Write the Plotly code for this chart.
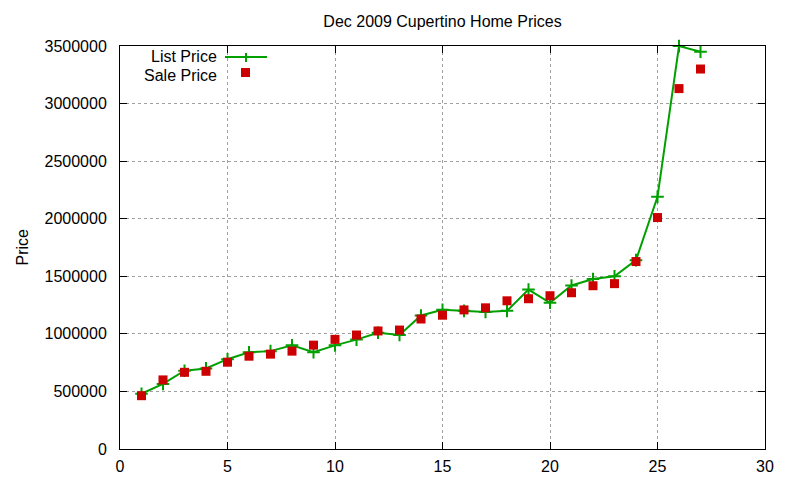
import plotly.graph_objects as go

# Dados
casa = list(range(1, 28))
list_price = [480000, 565000, 680000, 700000, 780000, 840000, 850000, 900000, 841000, 900000,
              950000, 1010000, 990000, 1160000, 1210000, 1200000, 1190000, 1200000, 1385000, 1270000,
              1420000, 1477000, 1500000, 1640000, 2190000, 3499000, 3450000]
sale_price = [463000, 600000, 666000, 675000, 754000, 806000, 824000, 850000, 902000, 952000,
              990000, 1025000, 1033000, 1129000, 1162000, 1208000, 1226000, 1287000, 1305000, 1331000,
              1357000, 1418000, 1436000, 1628000, 2010000, 3130000, 3300000]

verde = "#00a000"
vermelho = "#cc0000"
fonte = dict(family="Liberation Sans, Arial, sans-serif", size=16, color="black")

# a página tem uma margem de ~7px, compensada aqui
dx, dy = 8, 7
esq, topo, larg, alt = 120 - dx, 45 - dy, 645, 403

fig = go.Figure()
fig.add_trace(go.Scatter(x=casa, y=list_price, mode="lines+markers", name="List Price",
                         line=dict(color=verde, width=2),
                         marker=dict(symbol="cross-thin", size=9, line=dict(color=verde, width=2)),
                         cliponaxis=False))
fig.add_trace(go.Scatter(x=casa, y=sale_price, mode="markers", name="Sale Price",
                         marker=dict(symbol="square", size=9, color=vermelho), cliponaxis=False))

eixo = dict(showline=True, linecolor="black", linewidth=1, mirror="ticks", ticks="inside",
            ticklen=7, tickcolor="black", showgrid=True, gridcolor="#a0a0a0", griddash="dot",
            gridwidth=1, zeroline=False, tickfont=fonte)

fig.update_xaxes(range=[0, 30], dtick=5, ticklabelstandoff=3, **eixo)
fig.update_yaxes(range=[0, 3500000], dtick=500000, tickformat="d", ticklabelstandoff=9, **eixo)


def px_x(p):
    return (p - 120) / larg


def px_y(p):
    return 1 - (p - 45) / alt


# Legenda no estilo gnuplot (texto à esquerda, símbolo à direita)
fig.add_annotation(x=px_x(218), y=px_y(55), xref="paper", yref="paper", text="List Price",
                   showarrow=False, xanchor="right", yanchor="middle", font=fonte,
                   height=15, borderpad=0)
fig.add_annotation(x=px_x(218), y=px_y(74), xref="paper", yref="paper", text="Sale Price",
                   showarrow=False, xanchor="right", yanchor="middle", font=fonte,
                   height=15, borderpad=0)
fig.add_shape(type="line", xref="paper", yref="paper", x0=px_x(225), x1=px_x(267),
              y0=px_y(56), y1=px_y(56), line=dict(color=verde, width=2))
fig.add_shape(type="line", xref="paper", yref="paper", x0=px_x(246), x1=px_x(246),
              y0=px_y(52), y1=px_y(61), line=dict(color=verde, width=2))
fig.add_shape(type="rect", xref="paper", yref="paper", x0=px_x(241), x1=px_x(250),
              y0=px_y(67), y1=px_y(76), fillcolor=vermelho, line=dict(width=0))

fig.add_annotation(x=px_x(22), y=0.5, xref="paper", yref="paper", text="Price", textangle=-90,
                   showarrow=False, xanchor="center", yanchor="middle", font=fonte, borderpad=0)

fig.update_layout(
    width=800, height=480,
    margin=dict(l=esq, r=800 - esq - larg, t=topo, b=480 - topo - alt),
    title=dict(text="Dec 2009 Cupertino Home Prices", x=(esq + larg / 2) / 800, xanchor="center",
               y=1 - (20 - dy) / 480, yanchor="middle", font=fonte),
    plot_bgcolor="white", paper_bgcolor="white",
    showlegend=False, font=fonte,
)

fig.write_html("out.html")
